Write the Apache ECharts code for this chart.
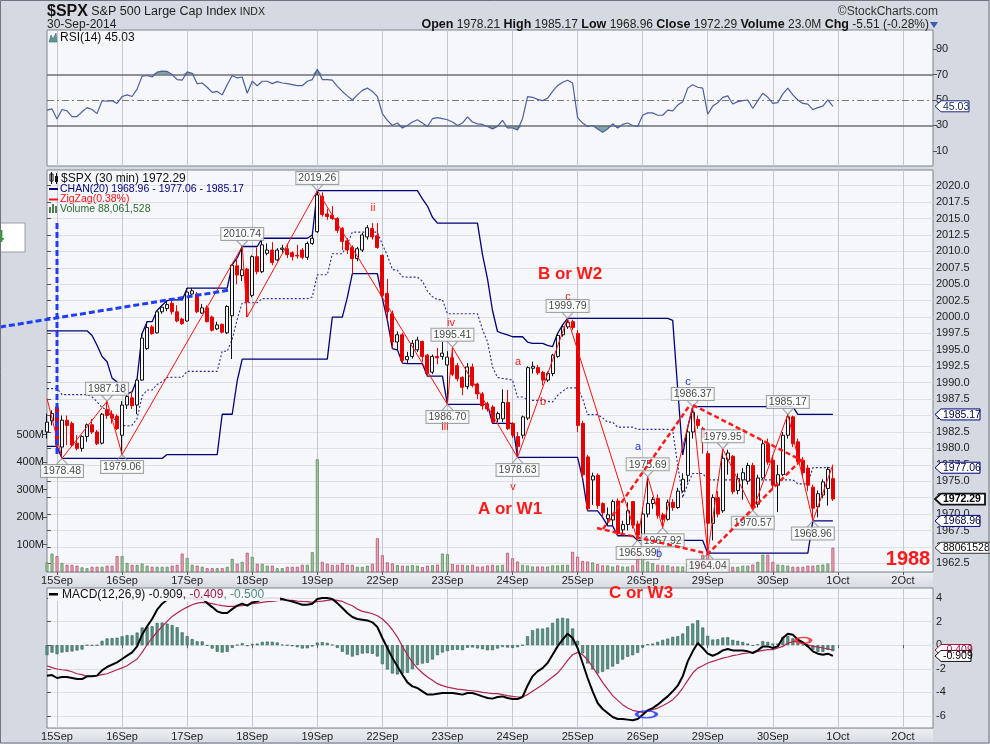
<!DOCTYPE html>
<html><head><meta charset="utf-8">
<script src="https://cdn.jsdelivr.net/npm/echarts@6/dist/echarts.min.js"></script>
<style>html,body{margin:0;padding:0;background:#d5d9e1;overflow:hidden}#c{width:990px;height:744px}</style>
</head><body><div id="c"></div>
<script>
// ---------- axis / category data ----------
const dayLabels = ['15Sep','16Sep','17Sep','18Sep','19Sep','22Sep','23Sep','24Sep','25Sep','26Sep','29Sep','30Sep','1Oct','2Oct'];
const dayStart  = [2,15,28,41,54,67,80,93,106,119,132,145,158,171];
const slotCount = 178;
const priceTicks = [1962.5,1965,1967.5,1970,1972.5,1975,1977.5,1980,1982.5,1985,1987.5,1990,1992.5,1995,1997.5,2000,2002.5,2005,2007.5,2010,2012.5,2015,2017.5,2020];
const rsiTicks = [10,30,50,70,90];
const volTicks = [100,200,300,400,500];
const macdTicks = [-6,-4,-2,0,2,4];

// ---------- 30-min OHLC ----------
const o = [
1982.5,1984.2,1986.3,1980.2,1984.3,1983.8,1980.8,1980.0,1981.8,1983.6,
1982.5,1980.8,1985.9,1985.2,1984.9,1982.0,1986.6,1987.7,1986.6,1990.4,
1995.2,1998.5,1997.6,2000.8,2001.3,2002.1,2000.8,1999.7,1999.4,2003.5,
2003.5,2000.6,2001.4,2000.0,1998.2,1998.9,1997.6,2000.2,2007.8,2006.3,
2007.3,2003.3,2009.2,2006.9,2009.7,2010.2,2008.7,2010.3,2010.4,2009.8,
2009.4,2010.2,2009.1,2011.2,2013.0,2018.4,2015.7,2015.5,2015.0,2013.5,
2011.6,2010.6,2008.9,2010.2,2012.2,2013.5,2012.4,2009.4,2003.6,2000.5,
1996.2,1997.3,1993.5,1994.0,1995.0,1996.3,1994.2,1991.6,1994.0,1994.0,
1992.7,1993.8,1992.6,1990.8,1989.4,1992.4,1989.8,1988.3,1986.8,1986.3,
1984.5,1984.5,1987.0,1983.8,1981.8,1982.0,1984.6,1992.2,1992.3,1991.6,
1990.4,1991.4,1994.0,1997.3,1998.5,1999.3,1997.5,1983.8,1978.7,1975.2,
1975.9,1971.6,1969.3,1969.1,1972.0,1967.6,1968.4,1971.9,1968.5,1966.5,
1970.0,1971.6,1972.4,1969.9,1969.2,1971.8,1971.0,1973.5,1975.9,1982.5,
1984.4,1983.0,1979.2,1968.6,1972.5,1970.5,1978.3,1978.8,1973.6,1975.2,
1975.0,1977.4,1971.5,1975.5,1980.7,1978.2,1974.4,1976.0,1982.0,1984.8,
1981.0,1978.2,1977.0,1974.1,1971.1,1972.9,1973.9,1975.4];
const h = [
1985.3,1985.8,1986.6,1985.0,1985.0,1984.1,1982.0,1982.0,1983.8,1984.5,
1982.8,1985.4,1987.18,1985.8,1985.2,1987.2,1988.3,1988.6,1990.6,1997.5,
1999.3,1998.8,2001.0,2001.8,2002.5,2002.6,2001.8,1999.9,2004.4,2004.4,
2003.8,2002.0,2001.8,2000.2,1999.3,1999.0,2001.8,2008.0,2009.0,2010.74,
2007.5,2009.4,2010.6,2012.0,2011.2,2011.4,2010.5,2011.0,2011.2,2010.0,
2011.0,2010.5,2011.5,2012.5,2019.26,2019.0,2016.5,2016.9,2015.2,2013.7,
2012.0,2010.9,2010.7,2012.8,2014.0,2014.3,2014.3,2009.5,2005.8,2001.0,
1997.8,1997.6,1994.7,1996.5,1997.0,1996.4,1994.4,1994.3,1995.3,1996.2,
1994.8,1995.41,1993.0,1991.0,1993.0,1992.9,1990.0,1988.6,1987.1,1986.6,
1985.6,1989.0,1988.9,1984.0,1982.5,1985.0,1992.5,1993.2,1992.7,1991.8,
1991.7,1994.4,1997.5,1998.8,1999.79,1999.6,1998.0,1984.2,1979.0,1976.3,
1976.2,1971.8,1971.0,1972.2,1972.4,1969.0,1971.8,1972.0,1969.0,1971.0,
1975.69,1972.6,1973.0,1970.2,1972.2,1972.3,1974.0,1976.2,1983.2,1986.37,
1985.0,1983.3,1979.6,1973.0,1973.5,1979.95,1979.8,1979.0,1976.2,1977.0,
1977.8,1977.8,1976.0,1981.3,1981.5,1979.0,1977.5,1982.5,1985.17,1985.0,
1981.5,1978.7,1977.5,1974.5,1973.6,1975.3,1977.2,1977.5];
const l = [
1981.5,1983.5,1979.3,1978.48,1980.5,1980.2,1979.7,1979.5,1981.0,1982.2,
1980.5,1980.6,1984.5,1983.8,1982.8,1979.06,1986.0,1986.0,1985.2,1990.3,
1995.0,1997.3,1997.5,2000.5,2000.9,2000.4,1999.2,1998.8,1999.3,2003.2,
2000.6,2000.5,1999.2,1997.8,1998.0,1997.5,1997.4,1993.6,2005.0,2005.5,
2000.0,2003.0,2006.5,2006.7,2009.4,2007.9,2008.5,2009.8,2009.0,2008.6,
2008.9,2008.8,2008.7,2011.0,2012.8,2015.3,2014.8,2014.8,2012.8,2010.2,
2009.6,2006.6,2008.5,2009.9,2011.8,2011.8,2010.4,2002.8,1999.5,1995.2,
1995.0,1993.0,1992.9,1993.7,1994.7,1993.2,1991.0,1991.3,1992.8,1993.5,
1986.70,1991.0,1990.2,1988.1,1989.0,1989.3,1987.5,1985.9,1985.6,1983.8,
1984.0,1984.0,1982.8,1981.6,1978.63,1981.5,1984.3,1991.4,1991.2,1989.6,
1990.1,1991.0,1993.8,1997.0,1998.2,1998.0,1982.5,1975.4,1970.5,1971.4,
1970.8,1969.5,1968.2,1968.2,1966.7,1967.0,1967.5,1967.8,1965.99,1966.2,
1969.5,1970.8,1969.3,1967.92,1969.0,1970.5,1970.8,1973.3,1974.8,1981.5,
1983.0,1979.2,1964.04,1966.0,1969.5,1970.2,1976.0,1973.0,1973.0,1972.2,
1974.5,1970.57,1971.0,1975.3,1977.5,1973.8,1970.3,1975.8,1981.5,1980.2,
1977.5,1975.5,1973.5,1968.96,1969.5,1972.4,1971.3,1972.0];
const c = [
1984.0,1985.3,1980.5,1984.3,1983.5,1980.5,1980.0,1981.8,1983.6,1982.5,
1980.7,1985.2,1985.0,1984.6,1983.0,1986.6,1987.9,1986.5,1990.4,1996.8,
1998.4,1997.5,2000.8,2001.5,2001.9,2000.8,1999.4,1999.0,2003.8,2004.0,
2000.8,2001.4,1999.3,1998.0,1998.8,1997.7,2001.6,2007.9,2006.4,2007.2,
2002.3,2009.2,2006.9,2011.0,2010.2,2008.3,2010.2,2010.5,2009.5,2009.2,
2009.3,2009.1,2011.2,2012.0,2018.6,2015.6,2015.3,2015.0,2013.2,2011.5,
2010.2,2008.9,2010.4,2012.5,2013.6,2012.2,2010.6,2003.3,2000.8,1996.2,
1997.3,1993.4,1994.0,1996.0,1996.5,1994.0,1991.4,1994.0,1993.8,1994.5,
1993.9,1991.3,1990.6,1989.3,1992.4,1989.6,1988.3,1986.5,1986.0,1984.0,
1985.3,1987.0,1983.0,1982.0,1980.3,1984.8,1992.3,1992.5,1991.5,1990.4,
1991.4,1994.2,1997.2,1998.5,1999.2,1998.4,1983.5,1976.0,1970.8,1975.8,
1971.3,1970.2,1969.9,1971.9,1967.0,1968.4,1970.5,1968.3,1966.8,1970.0,
1971.6,1972.2,1969.8,1969.2,1971.8,1971.0,1973.5,1975.3,1982.5,1985.5,
1983.5,1981.6,1968.6,1972.5,1970.0,1978.5,1979.3,1973.4,1975.4,1976.3,
1977.4,1971.0,1975.5,1980.7,1977.9,1974.4,1976.0,1982.0,1984.8,1980.7,
1978.0,1976.3,1974.4,1970.9,1973.1,1974.9,1976.8,1972.29];

// volume, millions
const vol = [
35,67,58,33,26,26,23,17,14,19,
19,19,23,23,58,58,33,26,26,31,
23,19,19,19,19,23,26,67,51,26,
23,19,14,14,14,14,19,48,30,37,
70,55,30,30,23,23,14,14,19,19,
19,26,26,72,410,37,30,26,26,33,
26,26,19,19,23,30,123,61,35,31,
25,23,23,25,23,18,23,25,27,67,
65,29,26,26,24,26,20,20,24,26,
24,26,70,50,38,26,24,20,20,20,
20,24,24,26,26,73,56,40,38,35,
29,24,24,20,24,20,20,24,70,70,
38,32,26,24,24,20,20,20,29,38,
32,63,72,31,25,23,19,19,19,23,
23,27,37,63,63,37,27,25,23,19,
19,19,23,23,25,27,31,88.06];

// price channel CHAN(20)
const chanUp = [
1997.9,1997.9,1997.9,1997.9,1997.9,1997.9,1997.9,1997.9,1997.9,1997.2,
1995.7,1994.0,1993.2,1990.7,1990.1,1988.6,1988.3,1988.6,1990.6,1997.5,
1999.3,1999.3,2001.0,2001.8,2002.5,2002.6,2002.6,2002.6,2004.4,2004.4,
2004.4,2004.4,2004.4,2004.4,2004.4,2004.4,2004.4,2008.0,2009.0,2010.74,
2010.74,2010.74,2010.74,2012.0,2012.0,2012.0,2012.0,2012.0,2012.0,2012.0,
2012.0,2012.0,2012.0,2012.5,2019.26,2019.26,2019.26,2019.26,2019.26,2019.26,
2019.26,2019.26,2019.26,2019.26,2019.26,2019.26,2019.26,2019.26,2019.26,2019.26,
2019.26,2019.26,2019.26,2019.26,2019.26,2018.0,2016.9,2015.2,2014.3,2014.3,
2014.3,2014.3,2014.3,2014.3,2014.3,2014.3,2014.3,2009.5,2005.8,2001.0,
1997.8,1997.5,1997.3,1997.0,1997.0,1997.0,1996.2,1996.0,1996.0,1996.0,
1995.7,1995.5,1997.5,1998.8,1999.79,1999.79,1999.79,1999.79,1999.79,1999.79,
1999.79,1999.79,1999.79,1999.79,1999.79,1999.79,1999.79,1999.79,1999.79,1999.79,
1999.79,1999.79,1999.79,1999.79,1999.79,1999.5,1989.0,1979.0,1983.2,1986.37,
1986.37,1986.37,1986.37,1986.37,1986.37,1986.37,1986.37,1986.37,1986.37,1986.37,
1986.37,1986.37,1986.37,1986.37,1986.37,1986.37,1986.37,1986.37,1986.37,1986.37,
1985.17,1985.17,1985.17,1985.17,1985.17,1985.17,1985.17,1985.17];
const chanLo = [
1980.3,1980.3,1980.3,1978.48,1978.48,1978.48,1978.48,1978.48,1978.48,1978.48,
1978.48,1978.48,1978.48,1978.48,1978.48,1978.48,1978.48,1978.48,1978.48,1978.48,
1978.48,1978.48,1978.48,1978.48,1979.06,1979.06,1979.06,1979.06,1979.06,1979.06,
1979.06,1979.06,1979.06,1979.06,1979.06,1985.2,1985.2,1985.2,1990.3,1993.6,
1993.6,1993.6,1993.6,1993.6,1993.6,1993.6,1993.6,1993.6,1993.6,1993.6,
1993.6,1993.6,1993.6,1993.6,1993.6,1993.6,1993.6,2000.0,2000.0,2000.0,
2003.0,2006.6,2006.6,2006.6,2006.6,2006.6,2006.6,2002.8,1999.5,1995.2,
1995.0,1993.0,1992.9,1992.9,1992.9,1992.9,1991.0,1991.0,1991.0,1991.0,
1986.7,1986.7,1986.7,1986.7,1986.7,1986.7,1986.7,1986.7,1986.7,1983.8,
1983.8,1983.8,1983.8,1983.8,1978.63,1978.63,1978.63,1978.63,1978.63,1978.63,
1978.63,1978.63,1978.63,1978.63,1978.63,1978.63,1978.63,1975.4,1970.5,1970.5,
1970.5,1969.5,1968.2,1968.2,1966.7,1966.7,1966.7,1966.7,1965.99,1965.99,
1965.99,1965.99,1965.99,1965.99,1965.99,1965.99,1965.99,1965.99,1965.99,1965.99,
1965.99,1965.99,1964.04,1964.04,1964.04,1964.04,1964.04,1964.04,1964.04,1964.04,
1964.04,1964.04,1964.04,1964.04,1964.04,1964.04,1964.04,1964.04,1964.04,1964.04,
1964.04,1964.04,1964.04,1968.96,1968.96,1968.96,1968.96,1968.96];

// ZigZag(0.38%) pivots: slot index, price, side (1 = high label, -1 = low label, 0 = none)
const zzIdx  = [0,3,12,15,39,40,54,80,81,94,104,118,120,123,129,132,135,141,148,153,157];
const zzVal  = [1987.6,1978.48,1987.18,1979.06,2010.74,2000.0,2019.26,1986.70,1995.41,1978.63,1999.79,1965.99,1975.69,1967.92,1986.37,1964.04,1979.95,1970.57,1985.17,1968.96,1977.5];
const zzSide = [0,-1,1,-1,1,0,1,-1,1,-1,1,-1,1,-1,1,-1,1,-1,1,-1,0];

// RSI(14)
const rsi = [
42,43,35,42.5,41.5,37,37,40.7,44,42.5,
39.3,49.5,49,49.5,47.3,52.7,54,52.7,58.5,68.7,
69.2,68,71.9,72.7,72.4,70,66,65.5,72,71,
62.8,63.3,60,56,56.7,54,62,69.2,67.3,68,
55.3,64.7,61.2,64.7,64.7,62.8,64.4,63.3,62.8,62,
61.2,61.2,64.7,66,74,66,66,65.5,60.7,56.7,
53.2,50,54,57.5,59.3,56.7,52.7,39.3,34,30,
31.9,28,30,32.7,34.5,31.9,29.2,35.3,36.1,35.3,
34.5,32.7,30,31.9,36.7,32.7,31.3,30.8,29.2,27.3,
29.2,34,28,28,26.5,35.3,52.7,52.1,50.5,49.5,
51.3,56.7,61.2,63.9,65.5,63.3,36.1,31.9,29.2,30,
27.3,24.7,27.3,31.3,28,30.8,31.9,30,29.2,38,
39.9,39.9,38,38,42,41.5,46,48.7,59.3,62,
60,59.3,38.8,45.2,47.9,52.1,53.2,46.8,48.7,49.5,
50,43.3,49.5,55.3,52.1,47.3,47.9,54.8,59.3,54,
50,47.3,46.8,42.5,44,45.2,50,45.03];

// MACD(12,26,9)
const macd = [
-2.58,-2.53,-2.78,-2.70,-2.70,-2.78,-2.87,-2.87,-2.64,-2.64,
-2.58,-2.13,-1.85,-1.65,-1.45,-1.17,-0.89,-0.61,-0.10,0.89,
1.60,2.22,3.01,3.52,3.85,4.15,4.25,4.10,4.00,3.95,
3.90,3.95,3.57,3.23,2.87,2.73,2.73,3.06,3.35,3.52,
3.35,3.63,3.71,3.91,4.0,4.0,4.0,3.91,3.80,3.71,
3.57,3.43,3.43,3.52,3.91,4.0,4.0,3.91,3.57,3.15,
2.73,2.39,2.22,2.16,2.10,1.94,1.54,0.61,-0.24,-1.09,
-1.79,-2.50,-3.15,-3.49,-3.63,-3.92,-4.19,-4.19,-4.11,-4.05,
-4.05,-4.05,-4.11,-4.19,-4.05,-4.05,-4.19,-4.34,-4.48,-4.53,
-4.39,-4.34,-4.48,-4.56,-4.56,-4.39,-3.43,-2.64,-2.22,-1.94,
-1.51,-0.81,-0.10,0.47,0.97,0.61,-0.24,-1.51,-2.78,-3.91,
-4.90,-5.41,-5.75,-6.09,-6.26,-6.26,-6.31,-6.37,-6.26,-5.89,
-5.52,-5.33,-5.04,-4.68,-4.34,-3.91,-3.43,-2.64,-1.37,-0.52,
0.18,-0.24,-0.72,-0.89,-0.72,-0.44,-0.32,-0.44,-0.44,-0.44,
-0.52,-0.66,-0.44,-0.10,-0.10,-0.24,-0.10,0.61,0.97,0.89,
0.47,0.24,-0.10,-0.52,-0.72,-0.81,-0.72,-0.909];
const signal = [
-1.74,-1.90,-2.02,-2.08,-2.13,-2.25,-2.42,-2.50,-2.64,-2.62,
-2.58,-2.50,-2.42,-2.25,-2.08,-1.92,-1.74,-1.45,-1.17,-0.61,
0.04,0.61,1.12,1.60,2.02,2.44,2.73,3.01,3.23,3.43,
3.57,3.63,3.60,3.52,3.43,3.35,3.29,3.29,3.32,3.35,
3.43,3.52,3.57,3.63,3.69,3.71,3.77,3.86,3.80,3.80,
3.74,3.71,3.69,3.63,3.69,3.74,3.80,3.86,3.80,3.71,
3.52,3.35,3.06,2.87,2.78,2.67,2.50,2.22,1.82,1.31,
0.69,-0.10,-0.81,-1.46,-1.94,-2.36,-2.70,-2.98,-3.26,-3.43,
-3.55,-3.64,-3.72,-3.77,-3.83,-3.86,-3.92,-4.00,-4.05,-4.11,
-4.11,-4.19,-4.28,-4.34,-4.39,-4.39,-4.19,-3.91,-3.63,-3.35,
-3.01,-2.70,-2.36,-1.85,-1.29,-0.81,-0.61,-0.81,-1.23,-1.85,
-2.50,-3.15,-3.72,-4.28,-4.68,-5.04,-5.33,-5.52,-5.61,-5.69,
-5.61,-5.47,-5.33,-5.13,-4.90,-4.62,-4.19,-3.63,-2.98,-2.36,
-1.94,-1.74,-1.51,-1.37,-1.23,-1.09,-1.00,-0.89,-0.81,-0.72,
-0.66,-0.61,-0.52,-0.44,-0.38,-0.38,-0.24,-0.10,0.18,0.30,
0.30,0.18,0.04,-0.10,-0.15,-0.24,-0.32,-0.409];

// hand-drawn annotation lines, in (slot, price) / (slot, macd) space
const trendBlue   = [[-9.39,1998.48],[36.56,2004.12]];
const vertBlue    = [[2,2014.32],[2,1978.69]];
const wedgeLow    = [[109.87,1967.87],[131.44,1964.07]];
const wedgeUp1    = [[111.07,1967.73],[128.44,1986.61]];
const wedgeDown   = [[129.04,1986.6],[151.02,1978.07]];
const wedgeUp2    = [[131.84,1963.8],[151.02,1978.53]];
const ovalBlue    = [119.76,-5.86];
const ovalRed     = [151.07,0.41];

// ---------- build ----------
const FONT = '"Liberation Sans", Arial, sans-serif';
const NARROW = '"Liberation Sans Narrow", "Liberation Sans", Arial, sans-serif';
const cats = Array.from({length: slotCount}, (_, i) => 's' + i);
const isDay = (i) => dayStart.indexOf(i) >= 0;
const dayName = (i) => { const k = dayStart.indexOf(i); return k >= 0 ? dayLabels[k] : ''; };
const mid = chanUp.map((u, i) => +((u + chanLo[i]) / 2).toFixed(3));
const hist = macd.map((m, i) => +(m - signal[i]).toFixed(3));
const candles = o.map((v, i) => [v, c[i], l[i], h[i]]);
const upVol = {color: '#a3c3a0', borderColor: '#5f8c5c', borderWidth: 0.8};
const dnVol = {color: '#e7a9b9', borderColor: '#b5506f', borderWidth: 0.8};
const volData = vol.map((v, i) => ({value: v, itemStyle: c[i] >= o[i] ? upVol : dnVol}));
const rsiLoBase = rsi.map(v => Math.min(v, 30));
const rsiLoFill = rsi.map(v => +(30 - Math.min(v, 30)).toFixed(2));
const rsiHiBase = rsi.map(() => 70);
const rsiHiFill = rsi.map(v => +Math.max(v - 70, 0).toFixed(2));

const vSplit = {show: true, interval: (i) => isDay(i), lineStyle: {color: '#c4c8d1', width: 1}};
function catAxis(grid, labels) {
  return {type: 'category', gridIndex: grid, data: cats, boundaryGap: false,
    axisLine: {show: false},
    axisTick: {show: labels, interval: (i) => isDay(i), length: 3, lineStyle: {color: '#555'}},
    axisLabel: {show: labels, interval: (i) => isDay(i), formatter: (v, i) => dayName(i), color: '#222', fontSize: 11, fontFamily: FONT, margin: 3},
    splitLine: vSplit};
}
function valAxis(grid, pos, min, max, ticks, fmt, split) {
  return {type: 'value', gridIndex: grid, position: pos, min: min, max: max,
    axisLine: {show: false},
    axisTick: {show: true, customValues: ticks, length: 4, lineStyle: {color: '#555'}},
    axisLabel: {customValues: ticks, formatter: fmt, color: '#222', fontSize: 11, fontFamily: FONT, margin: 3},
    splitLine: {show: split, lineStyle: {color: '#dde0e7', width: 1}}};
}
const gridStyle = {show: true, backgroundColor: '#f6f7fb', borderColor: '#7f848e', borderWidth: 1};
const dashLine = (data, color, width, dash) => ({type: 'line', xAxisIndex: 3, yAxisIndex: 1, data: data, symbol: 'none', z: 9, silent: true,
  lineStyle: {color: color, width: width, type: dash}});

const option = {
  animation: false,
  backgroundColor: '#d5d9e1',
  textStyle: {fontFamily: FONT},
  grid: [
    Object.assign({left: 47, right: 57, top: 30, height: 136}, gridStyle),
    Object.assign({left: 47, right: 57, top: 170, height: 402}, gridStyle),
    Object.assign({left: 47, right: 57, top: 588, height: 140}, gridStyle)
  ],
  xAxis: [
    catAxis(0, false), catAxis(1, true), catAxis(2, true),
    {type: 'value', gridIndex: 1, min: 0, max: slotCount - 1, show: false},
    {type: 'value', gridIndex: 2, min: 0, max: slotCount - 1, show: false}
  ],
  yAxis: [
    valAxis(0, 'right', -1.8, 104.9, rsiTicks, v => String(v), false),
    valAxis(1, 'right', 1961.18, 2022.39, priceTicks, v => v.toFixed(1), true),
    valAxis(1, 'left', 0, 1462, volTicks, v => v + 'M', false),
    valAxis(2, 'right', -7.02, 4.85, macdTicks, v => String(v), true)
  ],
  series: [
    // RSI panel
    {type: 'line', xAxisIndex: 0, yAxisIndex: 0, data: rsiLoBase, stack: 'lo', symbol: 'none', lineStyle: {opacity: 0}, silent: true},
    {type: 'line', xAxisIndex: 0, yAxisIndex: 0, data: rsiLoFill, stack: 'lo', symbol: 'none', lineStyle: {opacity: 0}, areaStyle: {color: '#6f9c97', opacity: 0.9}, silent: true},
    {type: 'line', xAxisIndex: 0, yAxisIndex: 0, data: rsiHiBase, stack: 'hi', symbol: 'none', lineStyle: {opacity: 0}, silent: true},
    {type: 'line', xAxisIndex: 0, yAxisIndex: 0, data: rsiHiFill, stack: 'hi', symbol: 'none', lineStyle: {opacity: 0}, areaStyle: {color: '#6f9c97', opacity: 0.9}, silent: true},
    {type: 'line', xAxisIndex: 0, yAxisIndex: 0, data: rsi, symbol: 'none', lineStyle: {color: '#4f5e9e', width: 1.2}, z: 5,
      markLine: {silent: true, symbol: 'none', label: {show: false},
        data: [
          {yAxis: 70, lineStyle: {color: '#6c6f78', width: 1.6, type: 'solid'}},
          {yAxis: 30, lineStyle: {color: '#6c6f78', width: 1.6, type: 'solid'}},
          {yAxis: 50, lineStyle: {color: '#777a82', width: 1, type: [7, 3, 2, 3]}}
        ]}},
    // main panel
    {type: 'bar', xAxisIndex: 1, yAxisIndex: 2, data: volData, barWidth: 3, z: 1},
    {type: 'line', xAxisIndex: 1, yAxisIndex: 1, data: chanUp, symbol: 'none', lineStyle: {color: '#00007a', width: 1.3}, z: 3},
    {type: 'line', xAxisIndex: 1, yAxisIndex: 1, data: chanLo, symbol: 'none', lineStyle: {color: '#00007a', width: 1.3}, z: 3},
    {type: 'line', xAxisIndex: 1, yAxisIndex: 1, data: mid, symbol: 'none', lineStyle: {color: '#2a2a9a', width: 1.1, type: [2, 2]}, z: 3},
    {type: 'candlestick', xAxisIndex: 1, yAxisIndex: 1, data: candles, barWidth: 3.5, z: 4,
      itemStyle: {color: '#f6f7fb', color0: '#e50000', borderColor: '#111', borderColor0: '#e50000', borderWidth: 1}},
    {type: 'line', xAxisIndex: 1, yAxisIndex: 1, data: zzIdx.map((x, i) => [x, zzVal[i]]), symbol: 'none', lineStyle: {color: '#ff1010', width: 1}, z: 6},
    // pivot chevrons
    {type: 'scatter', xAxisIndex: 1, yAxisIndex: 1, z: 7, silent: true,
      data: zzIdx.map((x, i) => zzSide[i] === 0 ? null : {
        value: [x, zzVal[i]],
        symbol: zzSide[i] > 0 ? 'path://M0,0L6,7L12,0' : 'path://M0,7L6,0L12,7',
        symbolSize: [11, 6], symbolOffset: [0, zzSide[i] > 0 ? -3 : 3]
      }).filter(Boolean),
      itemStyle: {color: 'rgba(0,0,0,0)', borderColor: '#8c8c8c', borderWidth: 1}},
    // pivot value labels
    {type: 'scatter', xAxisIndex: 1, yAxisIndex: 1, z: 8, silent: true, symbolSize: 1,
      itemStyle: {color: 'rgba(0,0,0,0)'},
      data: zzIdx.map((x, i) => zzSide[i] === 0 ? null : {
        value: [x, zzVal[i]],
        label: {position: zzSide[i] > 0 ? 'top' : 'bottom', distance: 6}
      }).filter(Boolean),
      label: {show: true, formatter: p => p.value[1].toFixed(2), color: '#111', fontSize: 10.5, fontFamily: FONT,
        backgroundColor: '#ffffff', borderColor: '#8c8c8c', borderWidth: 1, padding: [1, 2, 0, 2]}},
    // hand-drawn lines (the long blue trend line is drawn as an overlay so it can leave the panel)
    dashLine(vertBlue, '#1f3dff', 3, [6, 3]),
    dashLine(wedgeLow, '#ff1a1a', 2.5, [5, 3]),
    dashLine(wedgeUp1, '#ff1a1a', 2.5, [5, 3]),
    dashLine(wedgeDown, '#ff1a1a', 2.5, [5, 3]),
    dashLine(wedgeUp2, '#ff1a1a', 2.5, [5, 3]),
    // MACD panel
    {type: 'bar', xAxisIndex: 2, yAxisIndex: 3, data: hist, barWidth: 3, z: 2,
      itemStyle: {color: '#5a9484', borderColor: '#2e5e52', borderWidth: 0.6}},
    {type: 'line', xAxisIndex: 2, yAxisIndex: 3, data: signal, symbol: 'none', lineStyle: {color: '#b3244f', width: 1.2}, z: 3},
    {type: 'line', xAxisIndex: 2, yAxisIndex: 3, data: macd, symbol: 'none', lineStyle: {color: '#000', width: 2}, z: 4},
    {type: 'scatter', xAxisIndex: 4, yAxisIndex: 3, z: 6, silent: true, data: [ovalBlue], symbol: 'circle', symbolSize: [20, 7],
      itemStyle: {color: 'rgba(0,0,0,0)', borderColor: '#1a2cff', borderWidth: 2.2}},
    {type: 'scatter', xAxisIndex: 4, yAxisIndex: 3, z: 6, silent: true, data: [ovalRed], symbol: 'circle', symbolSize: [15, 6],
      itemStyle: {color: 'rgba(0,0,0,0)', borderColor: '#ff1a1a', borderWidth: 2.2}}
  ]
};

const chart = echarts.init(document.getElementById('c'), null, {renderer: 'canvas', width: 990, height: 744});
chart.setOption(option);

// ---------- overlay text & tags ----------
const py = (axis, v) => chart.convertToPixel({yAxisIndex: axis}, v);
const px = (axis, v) => chart.convertToPixel({xAxisIndex: axis}, v);
function T(x, y, text, font, fill, align) {
  return {type: 'text', z: 50, silent: true, style: {x: x, y: y, text: text, font: font, fill: fill, align: align || 'left', verticalAlign: 'middle'}};
}
function tag(y, text, stroke, color, w, bold, lw) {
  const x0 = 935, hh = 5.5;
  return {type: 'group', z: 60, silent: true, children: [
    {type: 'polygon', z: 60, shape: {points: [[x0, y], [x0 + 6, y - hh], [x0 + 6 + w, y - hh], [x0 + 6 + w, y + hh], [x0 + 6, y + hh]]},
      style: {fill: '#ffffff', stroke: stroke, lineWidth: lw || 1}},
    {type: 'text', z: 61, style: {x: x0 + 8, y: y + 0.5, text: text, font: (bold ? 'bold ' : '') + '10.5px ' + FONT, fill: color, align: 'left', verticalAlign: 'middle'}}
  ]};
}
const red = '#ff1a1a', blue = '#2a35e0';
const trendPts = trendBlue.map(p => [px(3, p[0]), py(1, p[1])]);
const g = [
  // strips under x axes
  {type: 'rect', z: -5, silent: true, shape: {x: 47, y: 573, width: 886, height: 15},
    style: {fill: new echarts.graphic.LinearGradient(0, 0, 0, 1, [{offset: 0, color: '#eceef2'}, {offset: 1, color: '#d6dae1'}])}},
  {type: 'rect', z: -5, silent: true, shape: {x: 47, y: 729, width: 886, height: 15},
    style: {fill: new echarts.graphic.LinearGradient(0, 0, 0, 1, [{offset: 0, color: '#eceef2'}, {offset: 1, color: '#d6dae1'}])}},
  {type: 'rect', z: 70, silent: true, shape: {x: 0.5, y: 0.5, width: 988.5, height: 742.5}, style: {fill: 'none', stroke: '#6f7480', lineWidth: 1}},
  // long blue trend line
  {type: 'polyline', z: 40, silent: true, shape: {points: trendPts}, style: {stroke: '#1f3dff', lineWidth: 3, lineDash: [6, 3], fill: 'none'}},
  // header
  {type: 'text', z: 50, silent: true, style: {x: 47, y: 12, verticalAlign: 'middle', text: '{a|$SPX} {b|S&P 500 Large Cap Index} {c|INDX}',
    rich: {a: {fontSize: 16, fontWeight: 'bold', fontFamily: NARROW, fill: '#111'}, b: {fontSize: 12.5, fontFamily: NARROW, fill: '#222'}, c: {fontSize: 10.5, fontFamily: NARROW, fill: '#222'}}}},
  T(47, 25, '30-Sep-2014', '12px ' + NARROW, '#222'),
  T(938, 12, '\u00a9StockCharts.com', '12px ' + NARROW, '#333', 'right'),
  {type: 'text', z: 50, silent: true, style: {x: 929, y: 25, align: 'right', verticalAlign: 'middle',
    text: '{b|Open} {n|1978.21} {b|High} {n|1985.17} {b|Low} {n|1968.96} {b|Close} {n|1972.29} {b|Volume} {n|23.0M} {b|Chg} {n|-5.51 (-0.28%)}',
    rich: {b: {fontSize: 12.5, fontWeight: 'bold', fontFamily: NARROW, fill: '#111'}, n: {fontSize: 12, fontFamily: NARROW, fill: '#222'}}}},
  {type: 'polygon', z: 50, silent: true, shape: {points: [[930, 22], [938, 22], [934, 28]]}, style: {fill: '#3b5bb0'}},
  // RSI legend
  {type: 'polygon', z: 50, silent: true, shape: {points: [[49, 42], [51, 35], [53, 39], [56, 33], [57, 42]]}, style: {fill: '#5f9a95', stroke: '#3d6a66', lineWidth: 0.6}},
  T(60, 38, 'RSI(14) 45.03', '12px ' + FONT, '#111'),
  // main legend
  {type: 'rect', z: 50, silent: true, shape: {x: 50, y: 174, width: 3, height: 7}, style: {fill: '#fff', stroke: '#111', lineWidth: 1}},
  {type: 'line', z: 50, silent: true, shape: {x1: 51.5, y1: 172, x2: 51.5, y2: 184}, style: {stroke: '#111', lineWidth: 1}},
  {type: 'rect', z: 50, silent: true, shape: {x: 55, y: 176, width: 3, height: 6}, style: {fill: '#111'}},
  {type: 'line', z: 50, silent: true, shape: {x1: 56.5, y1: 173, x2: 56.5, y2: 184}, style: {stroke: '#111', lineWidth: 1}},
  T(61, 178.5, '$SPX (30 min) 1972.29', '12px ' + FONT, '#111'),
  {type: 'rect', z: 50, silent: true, shape: {x: 49, y: 188, width: 9, height: 2}, style: {fill: '#00007a'}},
  T(60, 189, 'CHAN(20) 1968.96 - 1977.06 - 1985.17', '10.5px ' + FONT, '#00007a'),
  {type: 'rect', z: 50, silent: true, shape: {x: 49, y: 198.5, width: 9, height: 2}, style: {fill: '#ff1010'}},
  T(60, 199.5, 'ZigZag(0.38%)', '10.5px ' + FONT, '#ff1010'),
  {type: 'rect', z: 50, silent: true, shape: {x: 49, y: 207, width: 2, height: 6}, style: {fill: '#4f7f4c'}},
  {type: 'rect', z: 50, silent: true, shape: {x: 52, y: 204, width: 2, height: 9}, style: {fill: '#4f7f4c'}},
  {type: 'rect', z: 50, silent: true, shape: {x: 55, y: 206, width: 2, height: 7}, style: {fill: '#4f7f4c'}},
  T(60, 209.5, 'Volume 88,061,528', '10.5px ' + FONT, '#2f6a2f'),
  // MACD legend (with a soft backing like the original)
  {type: 'rect', z: 49, silent: true, shape: {x: 48, y: 589, width: 232, height: 12}, style: {fill: 'rgba(246,247,251,0.92)'}},
  {type: 'rect', z: 50, silent: true, shape: {x: 49, y: 593, width: 9, height: 2.5}, style: {fill: '#000'}},
  {type: 'text', z: 50, silent: true, style: {x: 62, y: 595, verticalAlign: 'middle', text: '{k|MACD(12,26,9) -0.909}{r|, -0.409}{g|, -0.500}',
    rich: {k: {fontSize: 12, fontFamily: FONT, fill: '#111'}, r: {fontSize: 12, fontFamily: FONT, fill: '#a3163f'}, g: {fontSize: 12, fontFamily: FONT, fill: '#4c8a79'}}}},
  // left "4" box
  {type: 'rect', z: 50, silent: true, shape: {x: -5, y: 223, width: 30, height: 29}, style: {fill: '#fff', stroke: '#9a9ea6', lineWidth: 1}},
  T(-5, 238, '4', 'bold 16px ' + FONT, '#1fa31f'),
  // wave annotations
  T(373, 208, 'ii', '11px ' + FONT, red, 'center'),
  T(451, 323, 'iv', '11px ' + FONT, red, 'center'),
  T(445, 427, 'iii', '11px ' + FONT, red, 'center'),
  T(513, 487, 'v', '11px ' + FONT, red, 'center'),
  T(518, 362, 'a', '11px ' + FONT, red, 'center'),
  T(543, 402, 'b', '11px ' + FONT, red, 'center'),
  T(568, 297, 'c', '11px ' + FONT, red, 'center'),
  T(638, 447, 'a', '11px ' + FONT, blue, 'center'),
  T(659, 554, 'b', '11px ' + FONT, blue, 'center'),
  T(688, 382, 'c', '11px ' + FONT, blue, 'center'),
  T(570, 274, 'B or W2', 'bold 17px ' + FONT, red, 'center'),
  T(510, 509, 'A or W1', 'bold 17px ' + FONT, red, 'center'),
  T(641, 593, 'C or W3', 'bold 17px ' + FONT, red, 'center'),
  T(908, 559, '1988', 'bold 20px ' + FONT, red, 'center'),
  // right-axis value tags
  tag(py(0, 45.03), '45.03', '#1c2a7c', '#14205e', 28),
  tag(py(1, 1985.17), '1985.17', '#000080', '#000040', 39),
  tag(py(1, 1977.06), '1977.06', '#000080', '#000040', 39),
  tag(py(1, 1968.96), '1968.96', '#000080', '#000040', 39),
  tag(py(1, 1972.29), '1972.29', '#111', '#000', 44, true, 1.8),
  tag(py(2, 88.06), '88061528', '#333', '#000', 50),
  tag(py(3, -0.409), '-0.409', '#a3163f', '#a3163f', 30),
  tag(py(3, -0.909), '-0.909', '#111', '#000', 30)
];
chart.setOption({graphic: g});
</script>
</body></html>
